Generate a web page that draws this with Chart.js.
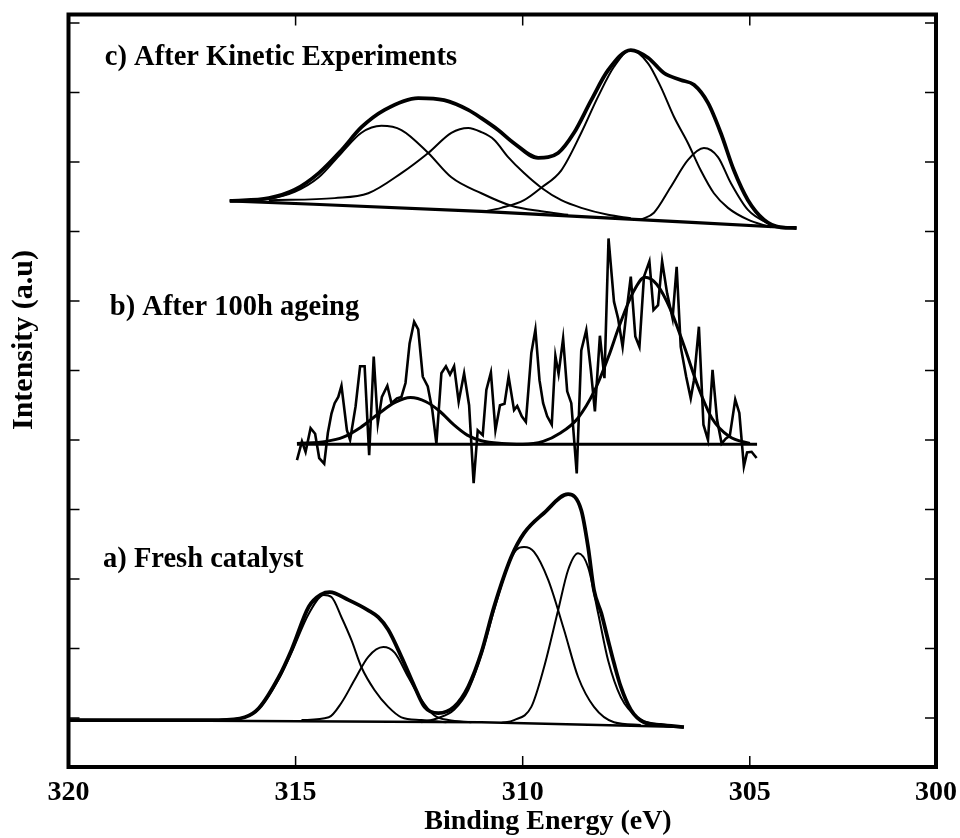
<!DOCTYPE html>
<html><head><meta charset="utf-8">
<script src="https://cdn.jsdelivr.net/npm/chart.js@4.4.1/dist/chart.umd.min.js"></script>
<style>html,body{margin:0;padding:0;background:#fff}canvas{display:block}</style>
</head><body>
<canvas id="c" width="960" height="838"></canvas>
<script>
// ---- axis ticks / labels ----
const xTickValues = [320, 315, 310, 305, 300.9];
const xTickLabels = ['320', '315', '310', '305', '300'];
const yTickValues = [0, 1, 2, 3, 4, 5, 6, 7, 8, 9, 10];
const xTitle = 'Binding Energy (eV)';
const yTitle = 'Intensity (a.u)';

// ---- annotations: text, binding energy, intensity ----
const noteTexts = ['c) After Kinetic Experiments', 'b) After 100h ageing', 'a) Fresh catalyst'];
const noteE = [319.20, 319.09, 319.24];
const noteI = [9.40, 5.80, 2.17];

// ---- a) Fresh catalyst ----
const freshBaseline = [[319.97,-0.03],[310.91,-0.06],[306.45,-0.13]];
const freshEnvelope = [[319.97,-0.03],[316.69,-0.03],[316.12,0.01],[315.81,0.14],[315.37,0.59],[315.09,0.98],[314.71,1.60],[314.43,1.78],[314.25,1.81],[313.84,1.70],[313.40,1.55],[313.18,1.45],[312.96,1.27],[312.67,0.88],[312.38,0.45],[312.16,0.16],[311.86,0.07],[311.51,0.16],[311.20,0.45],[310.91,0.94],[310.63,1.60],[310.25,2.32],[309.97,2.66],[309.53,2.95],[309.00,3.22],[308.71,2.99],[308.56,2.46],[308.43,1.84],[308.27,1.51],[308.12,1.12],[307.99,0.79],[307.84,0.45],[307.62,0.12],[307.33,-0.06],[306.96,-0.10],[306.45,-0.13]];
const freshPeak1 = [[316.69,-0.03],[316.12,0.01],[315.81,0.13],[315.37,0.56],[315.09,0.94],[314.71,1.50],[314.38,1.77],[314.21,1.74],[313.99,1.45],[313.77,1.12],[313.55,0.73],[313.26,0.40],[312.96,0.16],[312.67,0.01],[312.23,-0.03],[311.68,-0.06]];
const freshPeak2 = [[314.87,-0.03],[314.27,0.01],[313.99,0.22],[313.70,0.55],[313.40,0.88],[313.07,1.02],[312.82,0.94],[312.52,0.59],[312.23,0.26],[311.95,0.04],[311.64,-0.03],[311.13,-0.06]];
const freshPeak3 = [[312.23,-0.06],[311.86,0.00],[311.51,0.12],[311.20,0.40],[310.91,0.91],[310.63,1.55],[310.32,2.20],[310.14,2.42],[309.97,2.46],[309.75,2.39],[309.44,1.99],[309.09,1.27],[308.78,0.59],[308.43,0.16],[307.99,-0.06],[307.40,-0.10]];
const freshPeak4 = [[310.47,-0.07],[310.19,-0.03],[309.81,0.16],[309.53,0.73],[309.22,1.55],[309.00,2.13],[308.78,2.37],[308.56,2.17],[308.34,1.51],[308.12,0.83],[307.84,0.30],[307.46,0.00],[306.96,-0.10]];

// ---- b) After 100h ageing ----
const agedBaseline = [[314.97,3.94],[304.84,3.94]];
const agedRaw = [[314.97,3.71],[314.86,3.98],[314.78,3.83],[314.67,4.17],[314.57,4.09],[314.48,3.74],[314.37,3.66],[314.29,4.10],[314.21,4.38],[314.14,4.53],[314.06,4.62],[313.99,4.78],[313.87,4.14],[313.80,4.00],[313.68,4.48],[313.58,5.06],[313.48,5.06],[313.38,3.78],[313.28,5.20],[313.19,4.24],[313.10,4.62],[312.98,4.78],[312.89,4.53],[312.77,4.60],[312.67,4.62],[312.58,4.82],[312.49,5.39],[312.39,5.70],[312.30,5.59],[312.20,4.91],[312.09,4.77],[311.99,4.43],[311.90,3.95],[311.79,4.96],[311.69,5.06],[311.60,4.94],[311.51,5.06],[311.41,4.55],[311.29,4.96],[311.18,4.50],[311.08,3.38],[310.99,4.14],[310.88,4.07],[310.80,4.72],[310.70,4.97],[310.60,4.14],[310.50,4.50],[310.40,4.52],[310.31,4.91],[310.19,4.43],[310.12,4.49],[310.02,4.34],[309.93,4.26],[309.81,5.25],[309.72,5.59],[309.63,4.86],[309.55,4.53],[309.46,4.34],[309.36,4.22],[309.28,5.21],[309.21,4.95],[309.11,5.46],[309.02,4.70],[308.93,4.53],[308.81,3.52],[308.71,5.29],[308.60,5.58],[308.50,5.01],[308.41,4.41],[308.30,5.50],[308.20,4.89],[308.11,6.90],[307.99,5.99],[307.90,5.75],[307.80,5.34],[307.71,5.87],[307.62,6.35],[307.52,5.49],[307.43,5.34],[307.33,6.35],[307.21,6.57],[307.12,5.87],[307.02,5.94],[306.93,6.57],[306.82,6.11],[306.70,5.75],[306.61,6.49],[306.52,5.34],[306.40,4.91],[306.30,4.60],[306.23,4.86],[306.12,5.63],[306.02,4.22],[305.92,4.00],[305.82,5.01],[305.72,4.29],[305.62,3.95],[305.53,4.02],[305.44,4.06],[305.32,4.58],[305.23,4.39],[305.13,3.62],[305.06,3.82],[304.96,3.83],[304.85,3.74]];
const agedFit = [[314.97,3.95],[314.33,3.98],[313.95,4.04],[313.57,4.18],[313.19,4.37],[312.81,4.54],[312.47,4.61],[312.13,4.55],[311.82,4.41],[311.52,4.22],[311.22,4.07],[310.91,3.99],[310.46,3.95],[310.00,3.94],[309.55,3.98],[309.17,4.10],[308.79,4.31],[308.41,4.72],[308.11,5.20],[307.88,5.63],[307.58,6.11],[307.31,6.34],[307.05,6.24],[306.74,5.87],[306.44,5.34],[306.14,4.77],[305.83,4.31],[305.45,4.05],[305.00,3.95]];

// ---- c) After Kinetic Experiments ----
const kinBaseline = [[316.45,7.44],[310.91,7.29],[303.97,7.05]];
const kinEnvelope = [[316.45,7.44],[315.59,7.48],[315.02,7.60],[314.49,7.84],[313.99,8.17],[313.55,8.50],[313.04,8.75],[312.30,8.92],[311.73,8.89],[311.20,8.75],[310.91,8.63],[310.54,8.46],[310.19,8.27],[309.66,8.06],[309.22,8.13],[308.87,8.42],[308.49,8.89],[308.12,9.32],[307.62,9.61],[307.24,9.50],[306.89,9.28],[306.52,9.18],[306.23,9.11],[305.92,8.85],[305.64,8.42],[305.35,7.88],[305.04,7.45],[304.69,7.17],[304.32,7.06],[303.97,7.05]];
const kinPeak1 = [[316.45,7.44],[315.59,7.47],[315.02,7.57],[314.49,7.78],[313.99,8.13],[313.55,8.42],[313.11,8.52],[312.67,8.46],[312.08,8.13],[311.57,7.78],[310.91,7.55],[310.25,7.37],[309.59,7.29],[309.00,7.24]];
const kinPeak2 = [[315.59,7.45],[314.14,7.48],[313.40,7.55],[312.67,7.84],[312.08,8.13],[311.57,8.42],[311.20,8.49],[310.91,8.43],[310.63,8.32],[310.32,8.07],[309.97,7.84],[309.59,7.63],[309.15,7.45],[308.71,7.34],[308.12,7.24],[307.62,7.19]];
const kinPeak3 = [[310.91,7.28],[310.47,7.34],[309.97,7.45],[309.59,7.63],[309.15,7.88],[308.71,8.42],[308.34,8.94],[307.99,9.37],[307.62,9.61],[307.24,9.42],[306.96,9.08],[306.67,8.65],[306.36,8.27],[306.08,7.88],[305.79,7.55],[305.48,7.34],[305.04,7.17],[304.54,7.06]];
const kinPeak4 = [[307.40,7.17],[307.11,7.27],[306.74,7.64],[306.36,8.03],[306.01,8.20],[305.70,8.07],[305.42,7.70],[305.04,7.31],[304.60,7.12],[304.32,7.06]];

const FONT = '"Liberation Serif", "Times New Roman", serif';
const toXY = arr => arr.map(p => ({x: p[0], y: p[1]}));
const smooth = (arr, w) => ({data: toXY(arr), borderColor: '#000', borderWidth: w, cubicInterpolationMode: 'monotone', pointRadius: 0, fill: false});
const straight = (arr, w) => ({data: toXY(arr), borderColor: '#000', borderWidth: w, tension: 0, pointRadius: 0, fill: false});

const datasets = [
  straight(freshBaseline, 2.5),
  smooth(freshEnvelope, 3.8),
  smooth(freshPeak1, 2),
  smooth(freshPeak2, 2),
  smooth(freshPeak3, 2),
  smooth(freshPeak4, 2),
  straight(agedBaseline, 3),
  straight(agedRaw, 2.6),
  smooth(agedFit, 3),
  smooth(kinBaseline, 3.2),
  smooth(kinEnvelope, 3.8),
  smooth(kinPeak1, 2),
  smooth(kinPeak2, 2),
  smooth(kinPeak3, 2),
  smooth(kinPeak4, 2)
];

const decor = {
  id: 'decor',
  afterDraw(chart) {
    const {ctx, chartArea: a, scales: {x, y}} = chart;
    ctx.save();
    ctx.strokeStyle = '#000';
    ctx.lineWidth = 1.5;
    ctx.beginPath();
    xTickValues.forEach(v => {
      const px = x.getPixelForValue(v);
      if (px <= a.left + 2 || px >= a.right - 2) return;
      ctx.moveTo(px, a.bottom); ctx.lineTo(px, a.bottom - 11);
      ctx.moveTo(px, a.top); ctx.lineTo(px, a.top + 11);
    });
    yTickValues.forEach(v => {
      const py = y.getPixelForValue(v);
      ctx.moveTo(a.left, py); ctx.lineTo(a.left + 11, py);
      ctx.moveTo(a.right, py); ctx.lineTo(a.right - 11, py);
    });
    ctx.stroke();
    ctx.lineWidth = 4;
    ctx.strokeRect(a.left, a.top, a.right - a.left, a.bottom - a.top);
    ctx.fillStyle = '#000';
    ctx.font = 'bold 28.5px ' + FONT;
    ctx.textBaseline = 'alphabetic';
    ctx.textAlign = 'left';
    noteTexts.forEach((t, i) => {
      ctx.fillText(t, x.getPixelForValue(noteE[i]), y.getPixelForValue(noteI[i]));
    });
    ctx.font = 'bold 28px ' + FONT;
    ctx.textAlign = 'center';
    ctx.fillText(xTitle, 548, 829);
    ctx.translate(32, 340);
    ctx.rotate(-Math.PI / 2);
    ctx.font = 'bold 30px ' + FONT;
    ctx.fillText(yTitle, 0, 0);
    ctx.restore();
  }
};

new Chart(document.getElementById('c').getContext('2d'), {
  type: 'line',
  data: {datasets},
  options: {
    responsive: false,
    animation: false,
    devicePixelRatio: 1,
    layout: {padding: {top: 14.5, right: 24, left: 0, bottom: 0}},
    plugins: {legend: {display: false}, tooltip: {enabled: false}, title: {display: false}},
    elements: {point: {radius: 0}},
    scales: {
      x: {
        type: 'linear', reverse: true, min: 300.9, max: 320,
        afterBuildTicks: s => { s.ticks = xTickValues.map(v => ({value: v})); },
        afterFit: s => { s.height = 71; s.paddingLeft = 0; s.paddingRight = 0; },
        grid: {display: false, drawTicks: false},
        border: {display: false},
        ticks: {autoSkip: false, maxRotation: 0, minRotation: 0, padding: 9, color: '#000',
          font: {family: FONT, size: 28, weight: 'bold'},
          callback: (v, i) => xTickLabels[i]}
      },
      y: {
        type: 'linear', min: -0.705, max: 10.122,
        afterBuildTicks: s => { s.ticks = yTickValues.map(v => ({value: v})); },
        afterFit: s => { s.width = 68.5; s.paddingTop = 0; s.paddingBottom = 0; },
        grid: {display: false, drawTicks: false},
        border: {display: false},
        ticks: {display: false}
      }
    }
  },
  plugins: [decor]
});
</script>
</body></html>
